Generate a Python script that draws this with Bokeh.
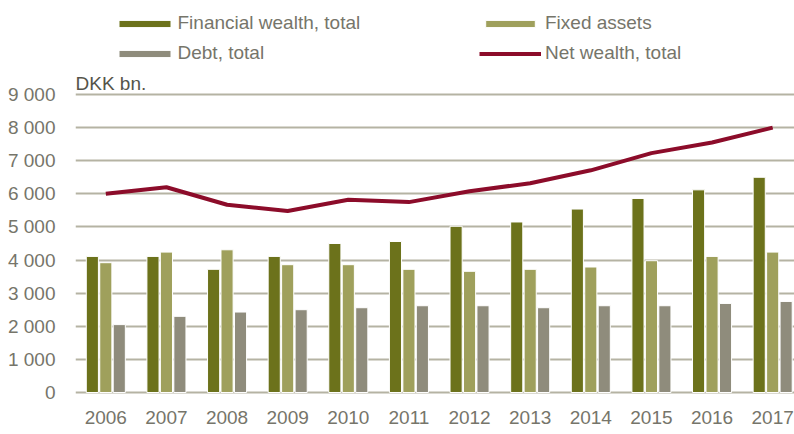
from bokeh.plotting import figure
from bokeh.models import ColumnDataSource, Range1d, FixedTicker, Legend, LegendItem, Label
from bokeh.transform import dodge
from bokeh.embed import file_html
from bokeh.resources import INLINE

years = ["2006", "2007", "2008", "2009", "2010", "2011", "2012", "2013", "2014", "2015", "2016", "2017"]
financial = [4110, 4110, 3720, 4110, 4500, 4560, 5020, 5150, 5540, 5860, 6120, 6500]
fixed_assets = [3920, 4240, 4310, 3860, 3860, 3720, 3660, 3720, 3790, 3980, 4110, 4240]
debt = [2050, 2300, 2430, 2500, 2560, 2620, 2620, 2560, 2620, 2620, 2690, 2750]
net_wealth = [6000, 6200, 5670, 5480, 5820, 5750, 6080, 6320, 6710, 7230, 7550, 8000]

y_ticks = [0, 1000, 2000, 3000, 4000, 5000, 6000, 7000, 8000, 9000]
y_tick_labels = ["0", "1 000", "2 000", "3 000", "4 000", "5 000", "6 000", "7 000", "8 000", "9 000"]

FONT = "Liberation Sans"
TXT = "#76756a"

src = ColumnDataSource(dict(x=list(range(len(years))), financial=financial,
                            fixed=fixed_assets, debt=debt, net=net_wealth))

p = figure(width=794, height=434, output_backend="svg", toolbar_location=None,
           x_range=Range1d(-0.5, 11.36), y_range=Range1d(-121, 11839),
           min_border_left=75, min_border_right=0, min_border_top=0, min_border_bottom=38)
p.outline_line_color = None
p.background_fill_color = "white"
p.border_fill_color = "white"
p.xgrid.visible = False
p.ygrid.grid_line_color = "#b5b3a3"
p.ygrid.grid_line_width = 2
p.ygrid.ticker = FixedTicker(ticks=y_ticks)

r1 = p.vbar(x=dodge("x", -0.222), top="financial", width=0.2, source=src,
            fill_color="#6c721b", line_color="white", line_width=1)
r2 = p.vbar(x=dodge("x", 0.0), top="fixed", width=0.2, source=src,
            fill_color="#9fa05c", line_color="white", line_width=1)
r3 = p.vbar(x=dodge("x", 0.222), top="debt", width=0.2, source=src,
            fill_color="#8f8c7c", line_color="white", line_width=1)
r4 = p.line(x="x", y="net", source=src, line_color="#8c0c2a", line_width=4)

p.xaxis.ticker = FixedTicker(ticks=list(range(len(years))))
p.xaxis.major_label_overrides = {i: y for i, y in enumerate(years)}
p.yaxis.ticker = FixedTicker(ticks=y_ticks)
p.yaxis.major_label_overrides = {t: l for t, l in zip(y_ticks, y_tick_labels)}
for ax in (p.xaxis, p.yaxis):
    ax.axis_line_color = None
    ax.major_tick_line_color = None
    ax.minor_tick_line_color = None
    ax.major_tick_out = 0
    ax.major_tick_in = 0
    ax.minor_tick_out = 0
    ax.minor_tick_in = 0
    ax.major_label_text_font = FONT
    ax.major_label_text_font_size = "19px"
    ax.major_label_text_color = TXT
p.xaxis.major_label_standoff = 14
p.yaxis.major_label_standoff = 20

def mk_legend(items, loc, gw, standoff):
    return Legend(items=items, location=loc, orientation="vertical",
                  glyph_width=gw, glyph_height=9, label_standoff=standoff, spacing=8,
                  label_height=22, padding=0, margin=0,
                  border_line_color=None, background_fill_alpha=0,
                  label_text_font=FONT, label_text_font_size="19px",
                  label_text_color=TXT)

leg1 = mk_legend([LegendItem(label="Financial wealth, total", renderers=[r1]),
                  LegendItem(label="Debt, total", renderers=[r3])], (36.5, 332), 65, 1)
leg2 = mk_legend([LegendItem(label="Fixed assets", renderers=[r2]),
                  LegendItem(label="Net wealth, total", renderers=[r4])], (404, 332), 62, 4)
p.add_layout(leg1, "center")
p.add_layout(leg2, "center")

unit = Label(x=0, y=313, x_units="screen", y_units="screen", text="DKK bn.",
             text_font=FONT, text_font_size="19px", text_color="#55544a",
             text_baseline="alphabetic")
p.add_layout(unit)

open("out.html", "w").write(file_html(p, INLINE))
